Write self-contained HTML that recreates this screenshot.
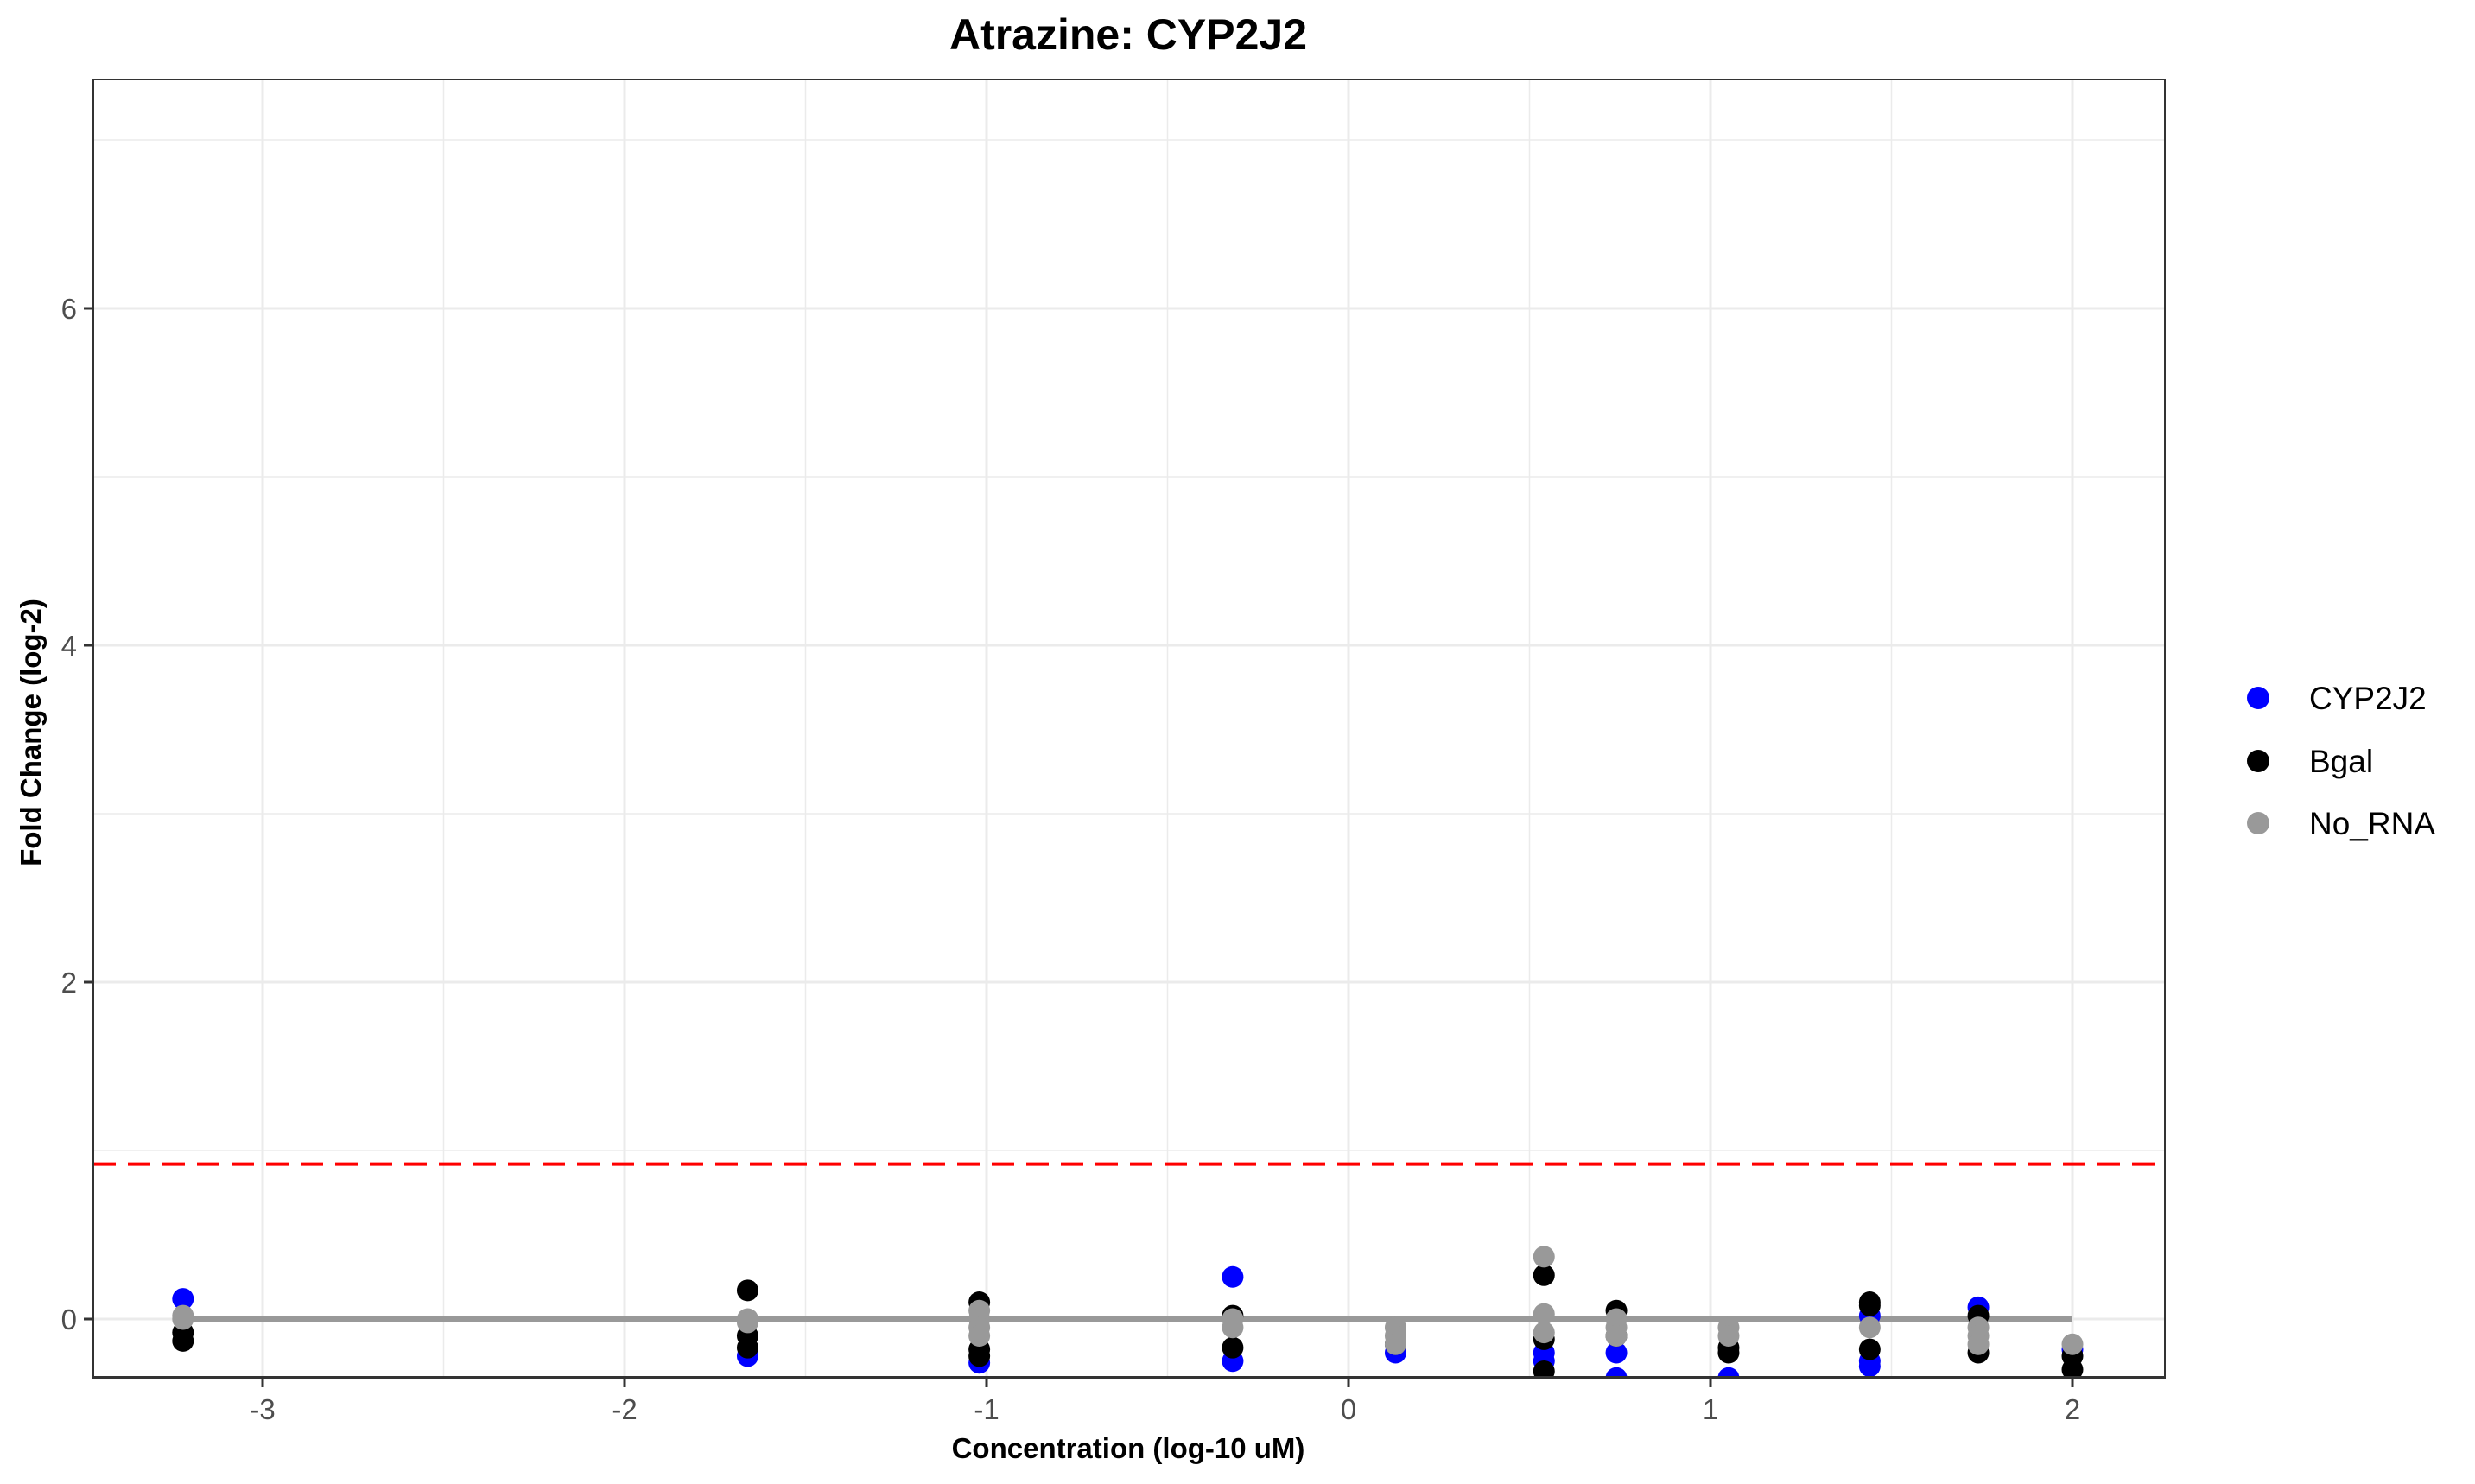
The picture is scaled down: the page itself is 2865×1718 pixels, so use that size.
<!DOCTYPE html>
<html><head><meta charset="utf-8"><style>
html,body{margin:0;padding:0;background:#fff;}
svg{display:block;font-family:"Liberation Sans",Arial,sans-serif;}
</style></head><body>
<svg id="chart" width="2865" height="1718" viewBox="0 0 2865 1718" xmlns="http://www.w3.org/2000/svg">
<text x="1306" y="57" font-size="50" font-weight="bold" text-anchor="middle">Atrazine: CYP2J2</text>
<g id="grid"></g><g id="marks"></g><g id="axes"></g>
<text x="1306" y="1688" font-size="33" font-weight="bold" text-anchor="middle">Concentration (log-10 uM)</text>
<text transform="translate(47,848) rotate(-90)" font-size="33" font-weight="bold" text-anchor="middle">Fold Change (log-2)</text>
<g>
<circle cx="2614" cy="808" r="13" fill="#0000ff"/>
<text x="2673" y="821" font-size="37">CYP2J2</text>
<circle cx="2614" cy="881" r="13" fill="#000"/>
<text x="2673" y="894" font-size="37">Bgal</text>
<circle cx="2614" cy="953" r="13" fill="#999"/>
<text x="2673" y="966" font-size="37">No_RNA</text>
</g>
</svg>
<script>
const xTicks=[-3,-2,-1,0,1,2];
const xMinor=[-2.5,-1.5,-0.5,0.5,1.5];
const yTicks=[0,2,4,6];
const yMinor=[1,3,5,7];
const threshold=0.92;
const cypX=[-3.22,-1.66,-1.02,-0.32,-0.32,0.13,0.54,0.54,0.74,0.74,1.05,1.44,1.44,1.44,1.74,2.0];
const cypY=[0.12,-0.22,-0.26,0.25,-0.25,-0.2,-0.2,-0.25,-0.2,-0.35,-0.35,0.02,-0.25,-0.28,0.07,-0.18];
const bgalX=[-3.22,-3.22,-1.66,-1.66,-1.66,-1.02,-1.02,-1.02,-0.32,-0.32,0.13,0.54,0.54,0.54,0.74,0.74,1.05,1.05,1.44,1.44,1.44,1.74,1.74,2.0,2.0];
const bgalY=[-0.13,-0.08,0.17,-0.1,-0.17,0.10,-0.18,-0.22,0.02,-0.17,-0.15,0.26,-0.12,-0.31,0.05,-0.1,-0.17,-0.2,0.1,0.08,-0.18,0.02,-0.2,-0.22,-0.3];
const noRnaX=[-3.22,-3.22,-1.66,-1.66,-1.02,-1.02,-1.02,-1.02,-0.32,-0.32,0.13,0.13,0.13,0.54,0.54,0.54,0.74,0.74,0.74,1.05,1.05,1.44,1.74,1.74,1.74,2.0];
const noRnaY=[0.02,0,0,-0.02,0.05,0,-0.05,-0.1,0,-0.05,-0.05,-0.1,-0.15,0.37,0.03,-0.08,0,-0.05,-0.1,-0.05,-0.1,-0.05,-0.05,-0.1,-0.15,-0.15];
const fitX=[-3.22,2.0];
const fitY=[0,0];

const L=108,R=2506,T=92,B=1595;
const X0=1561,XS=419;
const Y0=1527,YS=195;
const sx=v=>X0+v*XS, sy=v=>Y0-v*YS;
const NS='http://www.w3.org/2000/svg';
function mk(tag,parent,attrs){const e=document.createElementNS(NS,tag);for(const k in attrs)e.setAttribute(k,attrs[k]);parent.appendChild(e);return e;}
const grid=document.getElementById('grid'),marks=document.getElementById('marks'),axes=document.getElementById('axes');
let bg=mk('rect',grid,{x:L,y:T,width:R-L,height:B-T,fill:'#fff'});


xMinor.forEach(v=>{const l=mk('line',grid,{x1:sx(v),x2:sx(v),y1:T,y2:B,stroke:'#ebebeb','stroke-width':1.5});

});
yMinor.forEach(v=>{const l=mk('line',grid,{x1:L,x2:R,y1:sy(v),y2:sy(v),stroke:'#ebebeb','stroke-width':1.5});

});
xTicks.forEach(v=>{const l=mk('line',grid,{x1:sx(v),x2:sx(v),y1:T,y2:B,stroke:'#ebebeb','stroke-width':3});


const t=mk('line',axes,{x1:sx(v),x2:sx(v),y1:B,y2:B+11,stroke:'#333','stroke-width':3});


const tx=mk('text',axes,{x:sx(v),y:1643,'font-size':33,'text-anchor':'middle',fill:'#4d4d4d'});tx.textContent=v;

});
yTicks.forEach(v=>{const l=mk('line',grid,{x1:L,x2:R,y1:sy(v),y2:sy(v),stroke:'#ebebeb','stroke-width':3});


const t=mk('line',axes,{x1:L-11,x2:L,y1:sy(v),y2:sy(v),stroke:'#333','stroke-width':3});


const tx=mk('text',axes,{x:L-19,y:sy(v)+12,'font-size':33,'text-anchor':'end',fill:'#4d4d4d'});tx.textContent=v;

});
const th=mk('line',marks,{x1:L,x2:R,y1:sy(threshold),y2:sy(threshold),stroke:'#ff0000','stroke-width':4,'stroke-dasharray':'26 14'});


const fl=mk('line',marks,{x1:sx(fitX[0]),x2:sx(fitX[1]),y1:sy(fitY[0]),y2:sy(fitY[1]),stroke:'#999','stroke-width':7});


function pts(xs,ys,col,name){xs.forEach((x,i)=>{const c=mk('circle',marks,{cx:sx(x),cy:sy(ys[i]),r:12.5,fill:col});

});}
pts(cypX,cypY,'#0000ff','cyp2j2-point');
pts(bgalX,bgalY,'#000000','bgal-point');
pts(noRnaX,noRnaY,'#999999','no-rna-point');
const cov=mk('rect',marks,{x:L,y:B,width:R-L,height:14,fill:'#fff'});


const fr=mk('rect',axes,{x:L,y:T,width:R-L,height:B-T,fill:'none',stroke:'#333','stroke-width':2});


axes.insertBefore(fr,axes.firstChild);
const xa=mk('line',axes,{x1:L,x2:R,y1:B,y2:B,stroke:'#333','stroke-width':4});


</script>
</body></html>
